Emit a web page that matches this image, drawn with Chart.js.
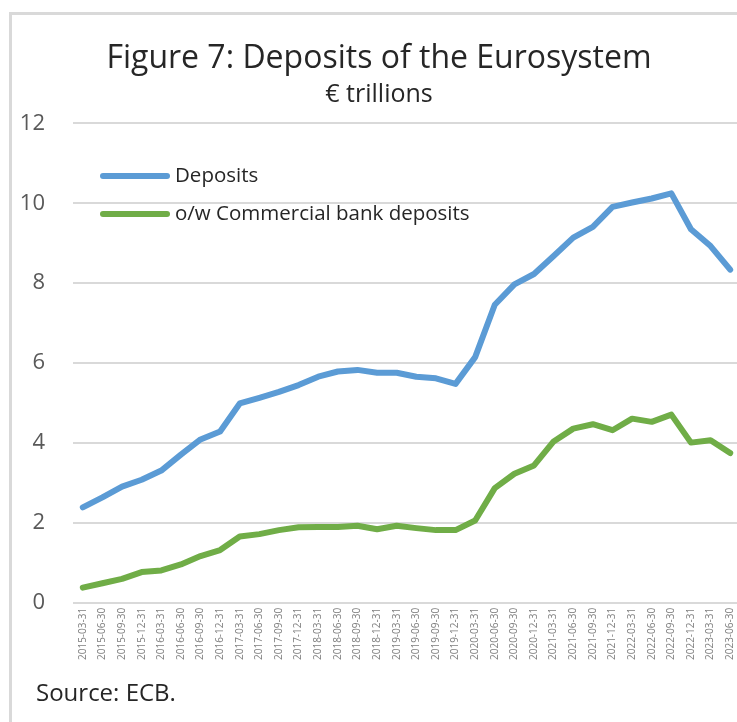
<!DOCTYPE html>
<html>
<head>
<meta charset="utf-8">
<title>Deposits of the Eurosystem</title>
<script src="https://cdn.jsdelivr.net/npm/chart.js@4.4.1/dist/chart.umd.min.js"></script>
<style>
  html, body { margin: 0; padding: 0; background: #fff; overflow: hidden; }
  body { width: 737px; height: 722px; position: relative; }
  #frame {
    position: absolute; left: 9px; top: 12px; width: 760px; height: 720px;
    border-left: 3px solid #d9d9d9; border-top: 3px solid #d9d9d9;
  }
  #chart { position: absolute; left: 18px; top: 0; }
  #source {
    position: absolute; left: 36px; top: 675px;
    font: 24px "Open Sans", sans-serif; color: #262626;
  }
</style>
</head>
<body>
<div id="frame"></div>
<canvas id="chart" width="760" height="722"></canvas>
<div id="source">Source: ECB.</div>
<script>
const quarters = [
  "2015-03-31","2015-06-30","2015-09-30","2015-12-31",
  "2016-03-31","2016-06-30","2016-09-30","2016-12-31",
  "2017-03-31","2017-06-30","2017-09-30","2017-12-31",
  "2018-03-31","2018-06-30","2018-09-30","2018-12-31",
  "2019-03-31","2019-06-30","2019-09-30","2019-12-31",
  "2020-03-31","2020-06-30","2020-09-30","2020-12-31",
  "2021-03-31","2021-06-30","2021-09-30","2021-12-31",
  "2022-03-31","2022-06-30","2022-09-30","2022-12-31",
  "2023-03-31","2023-06-30"
];

// € trillions
const deposits = [2.39, 2.64, 2.91, 3.08, 3.31, 3.71, 4.09, 4.29, 4.99, 5.13, 5.28, 5.45,
  5.66, 5.79, 5.83, 5.76, 5.76, 5.66, 5.62, 5.48, 6.15, 7.46, 7.97, 8.23,
  8.68, 9.14, 9.41, 9.91, 10.02, 10.12, 10.25, 9.35, 8.93, 8.34];
const commercialDeposits = [0.38, 0.49, 0.60, 0.77, 0.81, 0.96, 1.17, 1.32, 1.66, 1.72, 1.82, 1.89,
  1.90, 1.90, 1.93, 1.84, 1.93, 1.87, 1.82, 1.82, 2.06, 2.87, 3.23, 3.44,
  4.04, 4.36, 4.47, 4.32, 4.61, 4.53, 4.71, 4.01, 4.07, 3.75];

const yTicks = [0, 2, 4, 6, 8, 10, 12];

const FONT = '"Open Sans", sans-serif';

// legend drawn inside the plot, top-left, like the Excel original
const insideLegend = {
  id: "insideLegend",
  afterDraw(chart) {
    const ctx = chart.ctx;
    const x0 = 82, lineLen = 70;
    const rows = [176, 214];
    ctx.save();
    chart.data.datasets.forEach((ds, i) => {
      const y = rows[i];
      ctx.strokeStyle = ds.borderColor;
      ctx.lineWidth = 6;
      ctx.lineCap = "round";
      ctx.beginPath();
      ctx.moveTo(x0 + 3, y);
      ctx.lineTo(x0 + lineLen - 3, y);
      ctx.stroke();
      ctx.fillStyle = "#262626";
      ctx.font = "20.5px " + FONT;
      ctx.textBaseline = "middle";
      ctx.fillText(ds.label, x0 + lineLen + 5, y);
    });
    ctx.restore();
  }
};

new Chart(document.getElementById("chart"), {
  type: "line",
  data: {
    labels: quarters,
    datasets: [
      { label: "Deposits", data: deposits, borderColor: "#5b9bd5", backgroundColor: "#5b9bd5" },
      { label: "o/w Commercial bank deposits", data: commercialDeposits, borderColor: "#70ad47", backgroundColor: "#70ad47" }
    ]
  },
  options: {
    responsive: false,
    animation: false,
    layout: { padding: { left: 0, right: 38, top: 0, bottom: 57 } },
    elements: {
      line: { borderWidth: 6, tension: 0, borderCapStyle: "round", borderJoinStyle: "round" },
      point: { radius: 0 }
    },
    plugins: {
      legend: { display: false },
      tooltip: { enabled: false },
      title: {
        display: true,
        text: "Figure 7: Deposits of the Eurosystem",
        color: "#262626",
        font: { family: FONT, size: 32, weight: "normal", lineHeight: 1.2 },
        padding: { top: 40, bottom: 1 }
      },
      subtitle: {
        display: true,
        text: "€ trillions",
        color: "#262626",
        font: { family: FONT, size: 25, weight: "normal", lineHeight: 1.2 },
        padding: { top: 0, bottom: 14 }
      }
    },
    scales: {
      x: {
        offset: true,
        grid: { display: false, drawTicks: false },
        border: { display: false },
        ticks: {
          color: "#7f7f7f",
          font: { family: FONT, size: 10 },
          minRotation: 90, maxRotation: 90,
          autoSkip: false,
          padding: 5
        }
      },
      y: {
        min: 0, max: 12,
        afterBuildTicks(scale) { scale.ticks = yTicks.map(v => ({ value: v })); },
        afterFit(scale) { scale.width = 55; },
        grid: { color: "#d9d9d9", lineWidth: 2, drawTicks: false },
        border: { display: false },
        ticks: {
          color: "#595959",
          font: { family: FONT, size: 22 },
          padding: 28
        }
      }
    }
  },
  plugins: [insideLegend]
});
</script>
</body>
</html>
